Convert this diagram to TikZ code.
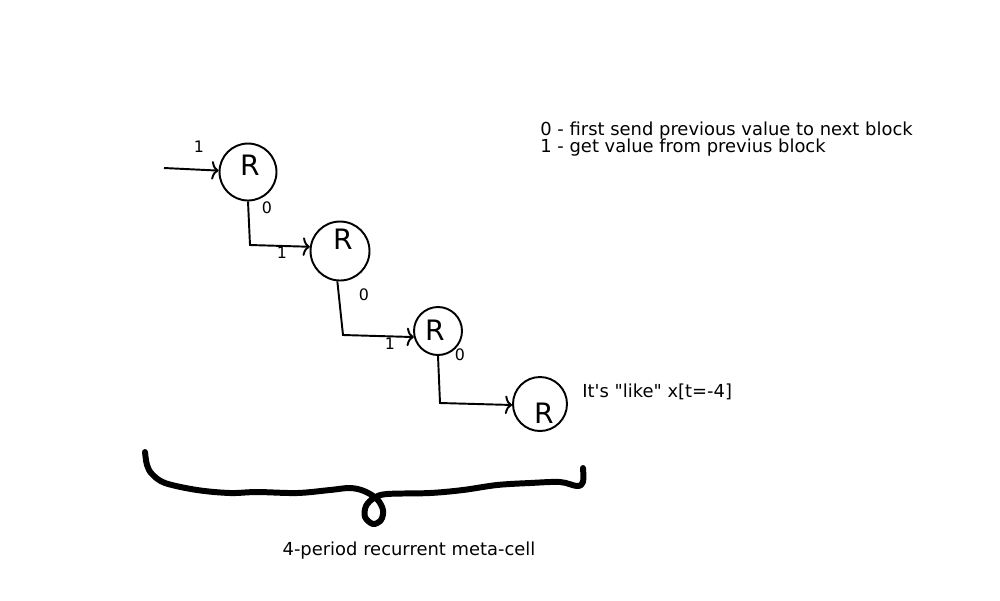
\documentclass[tikz,border=0pt]{standalone}
\usepackage{fontspec}
\setmainfont{DejaVu Sans}
\usetikzlibrary{arrows.meta}
\tikzset{
  cell/.style={circle, draw, line width=1.1pt, inner sep=0pt},
  rlabel/.style={inner sep=0pt, font=\fontsize{16}{16}\selectfont},
  small/.style={inner sep=0pt, font=\fontsize{9}{9}\selectfont},
  txt/.style={inner sep=0pt, font=\fontsize{10.2}{10.2}\selectfont},
  arr/.style={line width=1.1pt, -{To[length=4pt,width=10.5pt]}},
  brace/.style={line width=3.4pt, line cap=round, line join=round}
}
\begin{document}
\begin{tikzpicture}[x=0.02cm, y=-0.02cm]
\useasboundingbox (0,0) rectangle (1000,600);

% cells
\node[cell, minimum size=1.14cm] (c1) at (248,172) {};
\node[cell, minimum size=1.18cm] (c2) at (340,251) {};
\node[cell, minimum size=0.96cm] (c3) at (438,331) {};
\node[cell, minimum size=1.08cm] (c4) at (540,404) {};

\node[rlabel] (r1) at (250,165) {R};
\node[rlabel] (r2) at (343,239) {R};
\node[rlabel] (r3) at (435,330) {R};
\node[rlabel] (r4) at (544,413) {R};

% connectors
\coordinate (in) at (164,168);
\draw[arr] (in) -- (c1);
\draw[arr] (c1.south) -- (250,245) -- (c2.172);
\draw[arr] (c2.-95) -- (343,335) -- (c3.194);
\draw[arr] (c3.south) -- (440,403) -- (c4.182);

% port labels
\node[small] (l1) at (199,147) {1};
\node[small] (o1) at (267,208) {0};
\node[small] (l2) at (282,253) {1};
\node[small] (o2) at (364,295) {0};
\node[small] (l3) at (390,344) {1};
\node[small] (o3) at (460,355) {0};

% legend
\node[txt, anchor=base west] (leg0) at (540,135) {0 - first send previous value to next block};
\node[txt, anchor=base west] (leg1) at (540,152) {1 - get value from previus block};
\node[txt, anchor=base west] (like) at (582,397) {It\textquotesingle s \textquotedbl like\textquotedbl{} x[t=-4]};

% brace
\draw[brace] plot[smooth, tension=0.55] coordinates {
  (145,452) (147,465) (152,474) (165,483) (197,490) (230,493) (257,492)
  (297,493) (330,490) (350,488) (364,491) (377,499) (383,510) (381,520)
  (373,524) (365,517) (366,506) (374,498) (387,494) (430,493) (463,490)
  (497,485) (530,483) (560,482) (577,486) (583,482) (583,468)};
\node[txt, anchor=base] (meta) at (409,555) {4-period recurrent meta-cell};
\end{tikzpicture}
\end{document}
